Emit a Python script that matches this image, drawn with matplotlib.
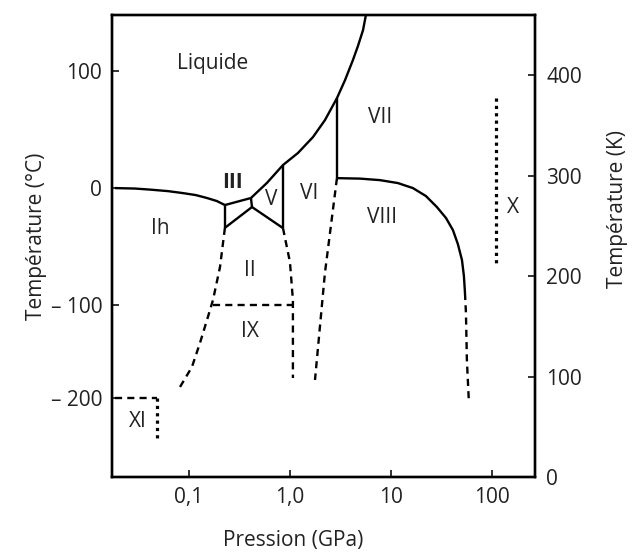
import numpy as np
import matplotlib
matplotlib.use("Agg")
import matplotlib.pyplot as plt

plt.rcParams['font.family'] = ['Open Sans', 'DejaVu Sans']
plt.rcParams['font.size'] = 15

# --- data (pressure in GPa, temperature in deg C) ---
ih_melt_p = [0.0185, 0.0292, 0.0411, 0.062, 0.0873, 0.117, 0.151, 0.189, 0.227]
ih_melt_t = [0, -0.4, -1.3, -2.6, -4.3, -6.0, -8.5, -11.1, -14.5]

iii_top_p = [0.227, 0.411]
iii_top_t = [-14.5, -8.5]
iii_left_p = [0.227, 0.227]
iii_left_t = [-14.5, -34]
iii_ii_p = [0.227, 0.421]
iii_ii_t = [-34, -16.2]
iii_v_p = [0.411, 0.421]
iii_v_t = [-8.5, -16.2]

v_ii_p = [0.421, 0.853]
v_ii_t = [-16.2, -34.2]
v_vi_p = [0.853, 0.853]
v_vi_t = [19.7, -34.2]

melt_hp_p = [0.411, 0.59, 0.853, 1.2, 1.69, 2.22, 2.92, 3.51, 4.2, 4.71, 5.29, 5.65]
melt_hp_t = [-8.5, 4.3, 19.7, 30, 43.6, 58.1, 76.9, 92.3, 109.4, 121.4, 135, 147.9]

vi_vii_p = [2.92, 2.92]
vi_vii_t = [76.9, 8.5]

vii_viii_p = [2.92, 4.93, 7.78, 11.7, 16.5, 22.2, 28.5, 35.1, 41.1, 46.0, 50.5, 52.8, 54.1]
vii_viii_t = [8.5, 8.1, 6.8, 4.3, 0, -6.8, -16.2, -25.6, -35.9, -47.9, -61.5, -75.2, -89.7]
vii_viii_dash_p = [54.1, 55.3, 56.5, 59.2]
vii_viii_dash_t = [-89.7, -108.6, -159, -205.4]

vi_viii_p = [2.92, 2.55, 2.22, 1.77]
vi_viii_t = [8.5, -31.6, -72.6, -180.6]

ii_vi_p = [0.853, 1.0, 1.07, 1.07]
ii_vi_t = [-34.2, -63.2, -95.7, -178.5]

ii_ih_p = [0.227, 0.203, 0.173, 0.154, 0.1285, 0.107, 0.0815]
ii_ih_t = [-34, -67.5, -95.7, -112.9, -140.9, -166.7, -188.2]

ix_p = [0.173, 1.07]
ix_t = [-100, -100]

xi_h_p = [0.0185, 0.0482]
xi_h_t = [-200, -200]
xi_v_p = [0.0482, 0.0482]
xi_v_t = [-200, -247.3]

x_p = [109.6, 109.6]
x_t = [76.9, -64.1]

phase_names = ['Liquide', 'Ih', 'III', 'V', 'VI', 'VII', 'VIII', 'X', 'II', 'IX', 'XI']
phase_p = [0.173, 0.0516, 0.267, 0.648, 1.54, 7.78, 8.15, 161, 0.402, 0.402, 0.0313]
phase_t = [106.8, -34.2, 5.1, -9.4, -4.3, 60.7, -24.8, -16.2, -70.9, -129, -225.8]

x_ticks = [0.1, 1, 10, 100]
x_ticklabels = ['0,1', '1,0', '10', '100']
c_ticks = [-200, -100, 0, 100]
c_ticklabels = ['\u2013 200', '\u2013 100', '0', '100']
k_ticks = [0, 100, 200, 300, 400]

# the printed Celsius axis is not evenly spaced; follow its tick spacing
knot_t = np.array([-1000, -200, -100, 0, 100, 1000])
knot_y = np.array([-1142, -398, -305, -188, -71, 982])


def fwd(t):
    return np.interp(t, knot_t, knot_y)


def inv(y):
    return np.interp(y, knot_y, knot_t)


txt = '#222222'
fig = plt.figure(figsize=(6.32, 5.54), dpi=100)
ax = fig.add_axes([112 / 632, 1 - 477 / 554, 423 / 632, 462 / 554])
ax.set_xscale('log')
ax.set_yscale('function', functions=(fwd, inv))
ax.set_xlim(0.0173, 267)
ax.set_ylim(-285, 148)

solid = dict(color='black', lw=1.7, solid_capstyle='butt', solid_joinstyle='round')
dashed = dict(color='black', lw=1.7, linestyle=(0, (3, 2.2)))
dotted = dict(color='black', lw=2.3, linestyle=(0, (1, 1.3)))

for p, t in [(ih_melt_p, ih_melt_t), (iii_top_p, iii_top_t), (iii_left_p, iii_left_t),
             (iii_ii_p, iii_ii_t), (iii_v_p, iii_v_t), (v_ii_p, v_ii_t),
             (v_vi_p, v_vi_t), (melt_hp_p, melt_hp_t), (vi_vii_p, vi_vii_t),
             (vii_viii_p, vii_viii_t)]:
    ax.plot(p, t, **solid)

for p, t in [(vii_viii_dash_p, vii_viii_dash_t), (vi_viii_p, vi_viii_t),
             (ii_vi_p, ii_vi_t), (ii_ih_p, ii_ih_t), (ix_p, ix_t), (xi_h_p, xi_h_t)]:
    ax.plot(p, t, **dashed)

ax.plot(xi_v_p, xi_v_t, **dotted)
ax.plot(x_p, x_t, **dotted)

for name, p, t in zip(phase_names, phase_p, phase_t):
    ax.text(p, t, name, ha='center', va='center', fontsize=15,
            fontweight='bold' if name == 'III' else 'normal', color=txt)

ax.set_xticks(x_ticks)
ax.set_xticklabels(x_ticklabels)
ax.xaxis.set_minor_locator(matplotlib.ticker.NullLocator())
ax.set_yticks(c_ticks)
ax.set_yticklabels(c_ticklabels)
ax.yaxis.set_minor_locator(matplotlib.ticker.NullLocator())
ax.tick_params(direction='in', length=5, width=1.3, pad=7, labelsize=15, colors=txt)
for s in ax.spines.values():
    s.set_linewidth(1.7)

ax.set_xlabel('Pression (GPa)', fontsize=15, color=txt)
ax.xaxis.set_label_coords(0.428, -0.115)
ax.set_ylabel('Température (°C)', fontsize=15, color=txt)
ax.yaxis.set_label_coords(-0.154, 0.52)

ax2 = ax.twinx()
ax2.set_ylim(0, 460)
ax2.set_yticks(k_ticks)
ax2.tick_params(direction='in', length=5, width=1.3, pad=8, labelsize=15, colors=txt)
ax2.set_ylabel('Température (K)', fontsize=15, color=txt)
ax2.yaxis.set_label_coords(1.17, 0.58)
for s in ax2.spines.values():
    s.set_linewidth(1.7)

fig.savefig('out.png', dpi=100)
